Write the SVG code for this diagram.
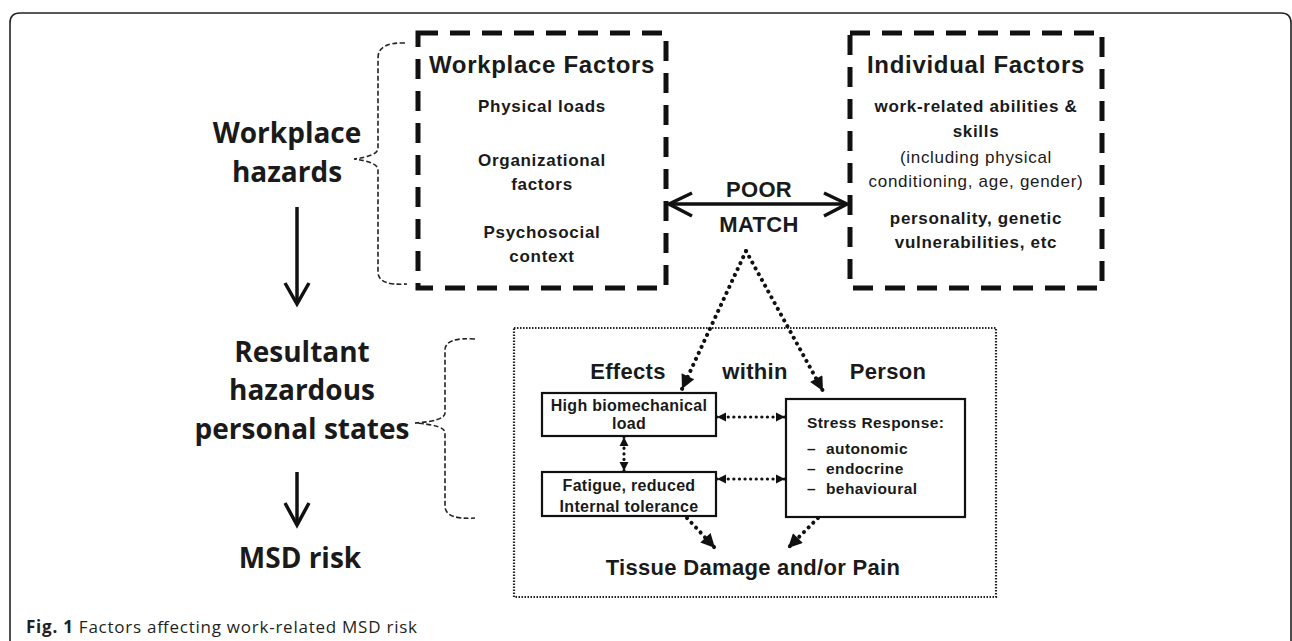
<svg xmlns="http://www.w3.org/2000/svg" width="1292" height="641" viewBox="0 0 1292 641">
<defs>
<style>
.fr{fill:none;stroke:#222;stroke-width:1.6}
.bigbox{fill:none;stroke:#111;stroke-width:5;stroke-dasharray:20 12}
.dotbox{fill:none;stroke:#222;stroke-width:2.2;stroke-dasharray:1.5 1.5}
.box{fill:#fff;stroke:#111;stroke-width:2.2}
.brace{fill:none;stroke:#222;stroke-width:1.6;stroke-dasharray:5 2.5}
.solid{fill:none;stroke:#111;stroke-width:3.5}
.chev{fill:none;stroke:#111;stroke-width:3.5;stroke-linejoin:miter}
.dotL{fill:none;stroke:#111;stroke-width:4;stroke-dasharray:0.1 6.5;stroke-linecap:round}
.dotS{fill:none;stroke:#111;stroke-width:3.2;stroke-dasharray:0.1 5.5;stroke-linecap:round}
.a{font-family:"Liberation Sans",Arial,sans-serif;font-weight:bold;fill:#1a1a1a;text-anchor:middle}
.h{font-size:24px;letter-spacing:0.7px}
.m{font-size:17px;letter-spacing:0.7px}
.r{font-weight:normal}
.t{font-size:22px;letter-spacing:0.3px}
.s{font-size:16px;letter-spacing:0.3px}
.l{text-anchor:start;font-size:15.5px;letter-spacing:0.4px}
.o{font-family:"Open Sans","DejaVu Sans",sans-serif;font-weight:bold;font-size:28px;fill:#1a1a1a;text-anchor:middle}
.cap{font-family:"Open Sans","DejaVu Sans",sans-serif;font-size:17px;fill:#231f20}
</style>
<marker id="triL" viewBox="0 0 10 10" refX="10" refY="5" markerWidth="15" markerHeight="14" markerUnits="userSpaceOnUse" orient="auto-start-reverse"><path d="M0,0 L10,5 L0,10 z" fill="#111"/></marker>
<marker id="triS" viewBox="0 0 10 10" refX="10" refY="5" markerWidth="9" markerHeight="10" markerUnits="userSpaceOnUse" orient="auto-start-reverse"><path d="M0,0 L10,5 L0,10 z" fill="#111"/></marker>
</defs>
<rect width="1292" height="641" fill="#fff"/>
<path class="fr" d="M10,641 V23 Q10,13 20,13 H1281 Q1291,13 1291,23 V641"/>

<g id="workplace-hazards">
<text class="o" x="287" y="143">Workplace</text>
<text class="o" x="287" y="182">hazards</text>
<path class="brace" d="M405,43 Q378,42 378,58 V148 Q378,156 354,159 Q378,162 378,170 V272 Q378,286 407,284"/>
</g>

<g id="resultant-states">
<text class="o" x="302" y="362">Resultant</text>
<text class="o" x="302" y="400">hazardous</text>
<text class="o" x="302" y="439">personal states</text>
<path class="brace" d="M475,339 Q445,337 445,350 V413 Q445,421 415,423 Q445,425 445,433 V506 Q445,520 475,518"/>
</g>

<g id="msd-risk">
<text class="o" x="300" y="568">MSD risk</text>
</g>

<g id="workplace-factors">
<rect class="bigbox" x="418" y="33" width="248" height="255"/>
<text class="a h" x="542" y="73">Workplace Factors</text>
<text class="a m" x="542" y="112">Physical loads</text>
<text class="a m" x="542" y="166">Organizational</text>
<text class="a m" x="542" y="190">factors</text>
<text class="a m" x="542" y="238">Psychosocial</text>
<text class="a m" x="542" y="262">context</text>
</g>

<g id="individual-factors">
<rect class="bigbox" x="850" y="33" width="252" height="255"/>
<text class="a h" x="976" y="73">Individual Factors</text>
<text class="a m" x="976" y="112">work-related abilities &amp;</text>
<text class="a m" x="976" y="137">skills</text>
<text class="a m r" x="976" y="163">(including physical</text>
<text class="a m r" x="976" y="187">conditioning, age, gender)</text>
<text class="a m" x="976" y="224">personality, genetic</text>
<text class="a m" x="976" y="248">vulnerabilities, etc</text>
</g>

<g id="poor-match">
<text class="a t" x="759" y="197">POOR</text>
<text class="a t" x="759" y="232">MATCH</text>
</g>

<g id="effects-within-person">
<rect class="dotbox" x="514" y="328" width="482" height="269"/>
<text class="a t" x="628" y="379">Effects</text>
<text class="a t" x="755" y="379">within</text>
<text class="a t" x="888" y="379">Person</text>
<text class="a t" x="753" y="575">Tissue Damage and/or Pain</text>
</g>

<g id="high-load">
<rect class="box" x="542" y="393" width="174" height="43"/>
<text class="a s" x="629" y="411">High biomechanical</text>
<text class="a s" x="629" y="429">load</text>
</g>

<g id="fatigue">
<rect class="box" x="542" y="472" width="174" height="44"/>
<text class="a s" x="629" y="491">Fatigue, reduced</text>
<text class="a s" x="629" y="512">Internal tolerance</text>
</g>

<g id="stress-response">
<rect class="box" x="786" y="399" width="179" height="118"/>
<text class="a l" x="807" y="428">Stress Response:</text>
<text class="a l" x="807" y="454">–</text><text class="a l" x="826" y="454">autonomic</text>
<text class="a l" x="807" y="474">–</text><text class="a l" x="826" y="474">endocrine</text>
<text class="a l" x="807" y="494">–</text><text class="a l" x="826" y="494">behavioural</text>
</g>

<g id="connectors">
<path class="solid" d="M297,207 V303"/>
<path class="chev" d="M285,283 L297,304 L309,283"/>
<path class="solid" d="M297,472 V524"/>
<path class="chev" d="M285,503 L297,525 L309,503"/>
<path class="solid" d="M670,204 H846"/>
<path class="chev" d="M692,193 L669,204 L692,216"/>
<path class="chev" d="M824,193 L847,204 L824,216"/>
<path class="dotL" d="M746,251 L682,389" marker-end="url(#triL)"/>
<path class="dotL" d="M746,251 L823,391" marker-end="url(#triL)"/>
<path class="dotS" d="M717,417 H785" marker-start="url(#triS)" marker-end="url(#triS)"/>
<path class="dotS" d="M717,479 H785" marker-start="url(#triS)" marker-end="url(#triS)"/>
<path class="dotS" d="M624,437 V471" marker-start="url(#triS)" marker-end="url(#triS)"/>
<path class="dotL" d="M687,518 L715,548" marker-end="url(#triL)"/>
<path class="dotL" d="M818,518 L788,548" marker-end="url(#triL)"/>
</g>

<g id="caption">
<text class="cap" x="26" y="633" textLength="391" lengthAdjust="spacing"><tspan font-weight="bold">Fig. 1</tspan> Factors affecting work-related MSD risk</text>
</g>
</svg>
